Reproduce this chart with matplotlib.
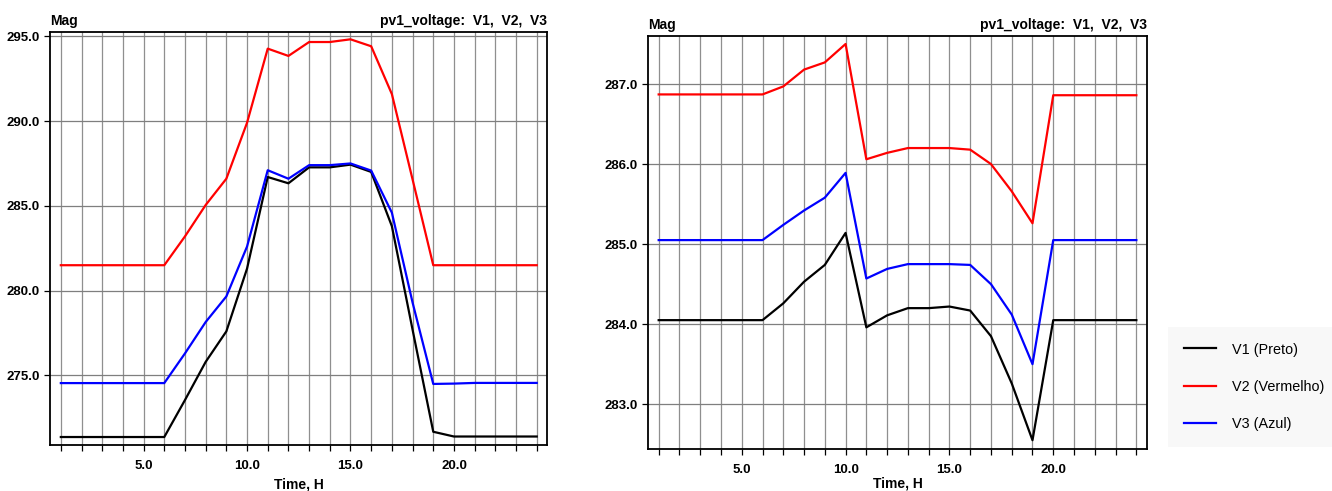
import matplotlib.pyplot as plt

plt.rcParams['font.family'] = ['Liberation Sans', 'DejaVu Sans']

hours = list(range(1, 25))

# left chart: pv1 voltage, V1/V2/V3 (Mag)
v1_left = [271.37, 271.37, 271.37, 271.37, 271.37, 271.37, 273.55, 275.8, 277.6, 281.3,
           286.7, 286.33, 287.27, 287.27, 287.43, 287.0, 283.8, 277.7, 271.68, 271.4,
           271.4, 271.4, 271.4, 271.4]
v2_left = [281.5, 281.5, 281.5, 281.5, 281.5, 281.5, 283.2, 285.05, 286.6, 289.9,
           294.27, 293.84, 294.66, 294.66, 294.82, 294.41, 291.59, 286.56, 281.5, 281.5,
           281.5, 281.5, 281.5, 281.5]
v3_left = [274.55, 274.55, 274.55, 274.55, 274.55, 274.55, 276.3, 278.15, 279.66, 282.6,
           287.1, 286.6, 287.4, 287.4, 287.5, 287.08, 284.6, 279.3, 274.5, 274.52,
           274.56, 274.56, 274.56, 274.56]

# right chart
v1_right = [284.05, 284.05, 284.05, 284.05, 284.05, 284.05, 284.26, 284.53, 284.74, 285.14,
            283.96, 284.11, 284.2, 284.2, 284.22, 284.17, 283.85, 283.26, 282.55, 284.05,
            284.05, 284.05, 284.05, 284.05]
v2_right = [286.87, 286.87, 286.87, 286.87, 286.87, 286.87, 286.97, 287.18, 287.27, 287.5,
            286.06, 286.14, 286.2, 286.2, 286.2, 286.18, 286.0, 285.66, 285.26, 286.86,
            286.86, 286.86, 286.86, 286.86]
v3_right = [285.05, 285.05, 285.05, 285.05, 285.05, 285.05, 285.24, 285.42, 285.58, 285.89,
            284.57, 284.69, 284.75, 284.75, 284.75, 284.74, 284.5, 284.12, 283.5, 285.05,
            285.05, 285.05, 285.05, 285.05]

labels = ['V1 (Preto)', 'V2 (Vermelho)', 'V3 (Azul)']
colors = ['#000000', '#ff0000', '#0000ff']
xticks = [5, 10, 15, 20]

fig = plt.figure(figsize=(13.32, 4.91), dpi=100)
ax1 = fig.add_axes([0.0379, 0.0937, 0.3728, 0.8411])
ax2 = fig.add_axes([0.4867, 0.0855, 0.3742, 0.8412])


def style(ax, ylim, ystep, labelpad):
    ax.set_xlim(0.5, 24.5)
    ax.set_ylim(*ylim)
    ax.set_xticks(hours, minor=True)
    ax.set_xticks(xticks)
    ax.set_xticklabels([f'{t:.1f}' for t in xticks])
    lo = int(ylim[0] // ystep + 1) * ystep
    yt = []
    v = lo
    while v <= ylim[1]:
        yt.append(v)
        v += ystep
    ax.set_yticks(yt)
    ax.set_yticklabels([f'{t:.1f}' for t in yt])
    for h in hours:
        ax.axvline(h, color='#8f8f8f', lw=0.9, zorder=0)
    for t in yt:
        ax.axhline(t, color='#7f7f7f', lw=0.9, zorder=0)
    ax.tick_params(axis='both', which='both', direction='out', length=4, width=0.9,
                   labelsize=9.5)
    ax.tick_params(axis='x', pad=6.5)
    ax.tick_params(axis='y', pad=3.5)
    for lab in ax.get_xticklabels() + ax.get_yticklabels():
        lab.set_fontweight('bold')
    for s in ax.spines.values():
        s.set_linewidth(1.3)
    ax.set_xlabel('Time, H', fontweight='bold', fontsize=10, labelpad=labelpad)
    ax.text(0.0, 1.01, 'Mag', transform=ax.transAxes, ha='left', va='bottom',
            fontweight='bold', fontsize=10)
    ax.text(1.0, 1.01, 'pv1_voltage:  V1,  V2,  V3', transform=ax.transAxes,
            ha='right', va='bottom', fontweight='bold', fontsize=10)


for ys, c in zip([v1_left, v2_left, v3_left], colors):
    ax1.plot(hours, ys, color=c, lw=1.6)
style(ax1, (270.9, 295.25), 5, 4)

handles = []
for ys, c, lb in zip([v1_right, v2_right, v3_right], colors, labels):
    h, = ax2.plot(hours, ys, color=c, lw=1.6, label=lb)
    handles.append(h)
style(ax2, (282.44, 287.6), 1, 1)

leg = fig.legend(handles=handles, loc='center left', bbox_to_anchor=(0.8715, 0.2125),
                 fontsize=10.4, frameon=True, handlelength=2.2, handletextpad=1.1,
                 labelspacing=1.6, borderpad=1.1, fancybox=False)
leg.get_frame().set_facecolor('#f7f7f7')
leg.get_frame().set_edgecolor('none')

plt.savefig('out.png', dpi=100)
